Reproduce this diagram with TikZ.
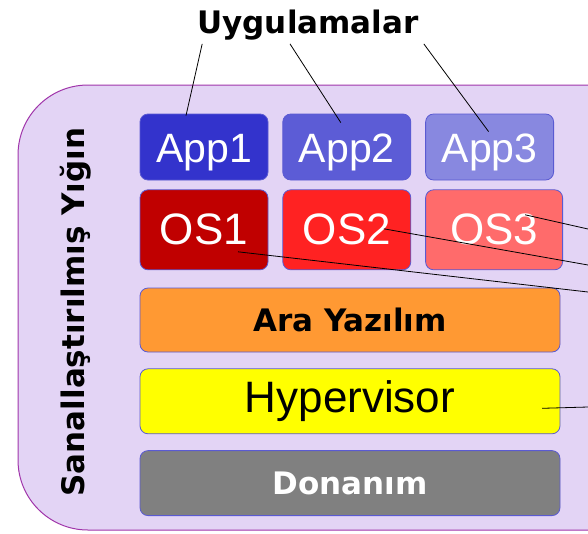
\documentclass[tikz,border=0pt]{standalone}
\usepackage{fontspec}
\newfontfamily\verd{DejaVu Sans}
\newfontfamily\arial{Liberation Sans}
\usetikzlibrary{positioning}
\definecolor{stackfill}{HTML}{E3D4F5}
\definecolor{stackline}{HTML}{A035AA}
\definecolor{boxline}{HTML}{5A5AD2}
\definecolor{appA}{HTML}{3333CC}
\definecolor{appB}{HTML}{5C5CD6}
\definecolor{appC}{HTML}{8888E0}
\definecolor{osA}{HTML}{C00000}
\definecolor{osB}{HTML}{FF2222}
\definecolor{osC}{HTML}{FF6B6B}
\definecolor{middle}{HTML}{FF9933}
\definecolor{hyper}{HTML}{FFFF00}
\definecolor{hardware}{HTML}{808080}

\begin{document}
\begin{tikzpicture}[x=1pt,y=-1pt,
  layer/.style={rectangle,draw=boxline,line width=0.8pt,rounded corners=8pt,inner sep=0pt},
  app/.style={layer,minimum width=128pt,minimum height=66pt,text=white,
    font=\arial\fontsize{41}{41}\selectfont,text height=30pt,text depth=0pt},
  os/.style={layer,minimum width=128pt,minimum height=80pt,text=white,
    font=\arial\fontsize{44}{44}\selectfont},
  wide/.style={layer,minimum width=420pt,minimum height=65pt},
  heavy/.style={font=\verd\bfseries\fontsize{31}{31}\selectfont},
  pointer/.style={black,line width=0.8pt}]
\useasboundingbox (0,0) rectangle (588,533);
\clip (0,0) rectangle (588,533);

% outer stack
\path[draw=stackline,fill=stackfill,line width=1pt,rounded corners=70pt] (18,85) rectangle (660,530);
\node[heavy,rotate=90,anchor=base,inner sep=0pt] (stack) at (84,312) {Sanallaştırılmış Yığın};

% apps and guests
\node[app,fill=appA] (app1) at (204,147) {App1};
\node[app,fill=appB] (app2) [right=14pt of app1] {App2};
\node[app,fill=appC] (app3) [right=14pt of app2] {App3};
\node[os,fill=osA] (os1) [below=9pt of app1] {OS1};
\node[os,fill=osB] (os2) [right=14pt of os1] {OS2};
\node[os,fill=osC,minimum width=137pt] (os3) [right=14pt of os2] {OS3};

% layers
\node[wide,heavy,fill=middle,minimum height=64pt] (ara) at (350,320) {Ara Yazılım};
\node[wide,fill=hyper,font=\arial\fontsize{44}{44}\selectfont] (hyper) [below=16pt of ara] {Hypervisor};
\node[wide,heavy,fill=hardware,text=white] (don) [below=16pt of hyper] {Donanım};

\node[heavy,anchor=base,inner sep=0pt] (uyg) at (308,33) {Uygulamalar};

\coordinate (r3) at (588,229);
\coordinate (r2) at (588,265);
\coordinate (r1) at (588,292);
\coordinate (rh) at (588,407);

\path[draw,pointer] ([xshift=5pt,yshift=-4pt]uyg.south west) edge ([xshift=-18pt,yshift=-2pt]app1.north);
\path[draw,pointer] ([xshift=-18pt,yshift=-4pt]uyg.south) edge ([xshift=-6pt,yshift=-9pt]app2.north);
\path[draw,pointer] ([xshift=5pt,yshift=-4pt]uyg.south east) edge ([xshift=-1pt,yshift=-18pt]app3.north);

\path[draw,pointer] ([xshift=31pt,yshift=15pt]os3.center) edge (r3);
\path[draw,pointer] ([xshift=37pt,yshift=1pt]os2.center) edge (r2);
\path[draw,pointer] ([xshift=34pt,yshift=-22pt]os1.center) edge (r1);
\path[draw,pointer] ([xshift=192pt,yshift=-7pt]hyper.center) edge (rh);
\end{tikzpicture}
\end{document}
